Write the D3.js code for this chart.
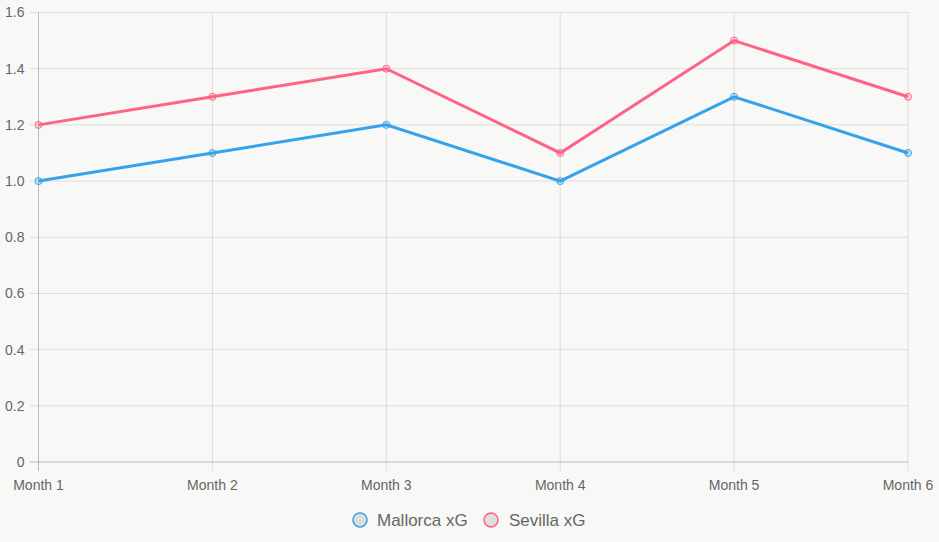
<!DOCTYPE html>
<html>
<head>
<meta charset="utf-8">
<script src="https://cdn.jsdelivr.net/npm/d3@7"></script>
<style>
  html, body { margin: 0; padding: 0; background: #f8f8f6; }
  svg { display: block; font-family: Arial, "Liberation Sans", sans-serif; }
</style>
</head>
<body>
<div id="chart"></div>
<script>
const months = ['Month 1', 'Month 2', 'Month 3', 'Month 4', 'Month 5', 'Month 6'];
const mallorcaXG = [1.0, 1.1, 1.2, 1.0, 1.3, 1.1];
const sevillaXG = [1.2, 1.3, 1.4, 1.1, 1.5, 1.3];
const yTicks = [0, 0.2, 0.4, 0.6, 0.8, 1.0, 1.2, 1.4, 1.6];

const series = [
  { name: 'Mallorca xG', values: mallorcaXG, color: '#36a2eb', fill: 'rgba(54,162,235,0.2)' },
  { name: 'Sevilla xG', values: sevillaXG, color: '#ff6384', fill: 'rgba(255,99,132,0.2)' }
];

const width = 939, height = 542;
const margin = { top: 12.5, right: 31, bottom: 80, left: 38.5 };
const chartWidth = width - margin.left - margin.right;
const chartHeight = height - margin.top - margin.bottom;

const svg = d3.select('#chart').append('svg')
  .attr('width', width)
  .attr('height', height);

svg.append('rect')
  .attr('width', width)
  .attr('height', height)
  .attr('fill', '#f8f8f6');

const g = svg.append('g')
  .attr('transform', `translate(${margin.left},${margin.top})`);

const x = d3.scalePoint()
  .domain(months)
  .range([0, chartWidth]);

const y = d3.scaleLinear()
  .domain([0, 1.6])
  .range([chartHeight, 0]);

const gridColor = 'rgba(0,0,0,0.1)';

// horizontal gridlines + left ticks
yTicks.forEach(t => {
  g.append('line')
    .attr('x1', -9).attr('x2', chartWidth)
    .attr('y1', y(t)).attr('y2', y(t))
    .attr('stroke', gridColor)
    .attr('stroke-width', 1);
  g.append('text')
    .attr('x', -14)
    .attr('y', y(t))
    .attr('dy', '0.35em')
    .attr('text-anchor', 'end')
    .attr('fill', '#666')
    .style('font-size', '14px')
    .text(t === 0 ? '0' : t.toFixed(1));
});

// vertical gridlines + bottom ticks
months.forEach(m => {
  g.append('line')
    .attr('x1', x(m)).attr('x2', x(m))
    .attr('y1', 0).attr('y2', chartHeight + 9)
    .attr('stroke', gridColor)
    .attr('stroke-width', 1);
  g.append('text')
    .attr('x', x(m))
    .attr('y', chartHeight + 23)
    .attr('dy', '0.35em')
    .attr('text-anchor', 'middle')
    .attr('fill', '#666')
    .style('font-size', '14px')
    .text(m);
});

// axis lines slightly darker
g.append('line')
  .attr('x1', 0).attr('x2', 0)
  .attr('y1', 0).attr('y2', chartHeight + 9)
  .attr('stroke', 'rgba(0,0,0,0.15)');
g.append('line')
  .attr('x1', -9).attr('x2', chartWidth)
  .attr('y1', chartHeight).attr('y2', chartHeight)
  .attr('stroke', 'rgba(0,0,0,0.15)');

const lineFn = d3.line()
  .x((d, i) => x(months[i]))
  .y(d => y(d));

series.forEach(s => {
  g.append('path')
    .datum(s.values)
    .attr('fill', 'none')
    .attr('stroke', s.color)
    .attr('stroke-width', 3)
    .attr('stroke-linejoin', 'miter')
    .attr('d', lineFn);

  g.selectAll(null)
    .data(s.values)
    .enter()
    .append('circle')
      .attr('cx', (d, i) => x(months[i]))
      .attr('cy', d => y(d))
      .attr('r', 3.5)
      .attr('fill', s.fill)
      .attr('stroke', s.color)
      .attr('stroke-width', 1);
});

// legend
const legend = svg.append('g').attr('transform', 'translate(0,520)');
const legendItems = [
  { s: series[0], cx: 360, tx: 377 },
  { s: series[1], cx: 491, tx: 509 }
];
legendItems.forEach(item => {
  legend.append('circle')
    .attr('cx', item.cx)
    .attr('cy', 0)
    .attr('r', 7)
    .attr('fill', 'rgba(0,0,0,0.1)')
    .attr('stroke', item.s.color)
    .attr('stroke-width', 1.5);
  legend.append('text')
    .attr('x', item.tx)
    .attr('y', 0)
    .attr('dy', '0.35em')
    .attr('fill', '#666')
    .style('font-size', '17px')
    .text(item.s.name);
});
</script>
</body>
</html>
